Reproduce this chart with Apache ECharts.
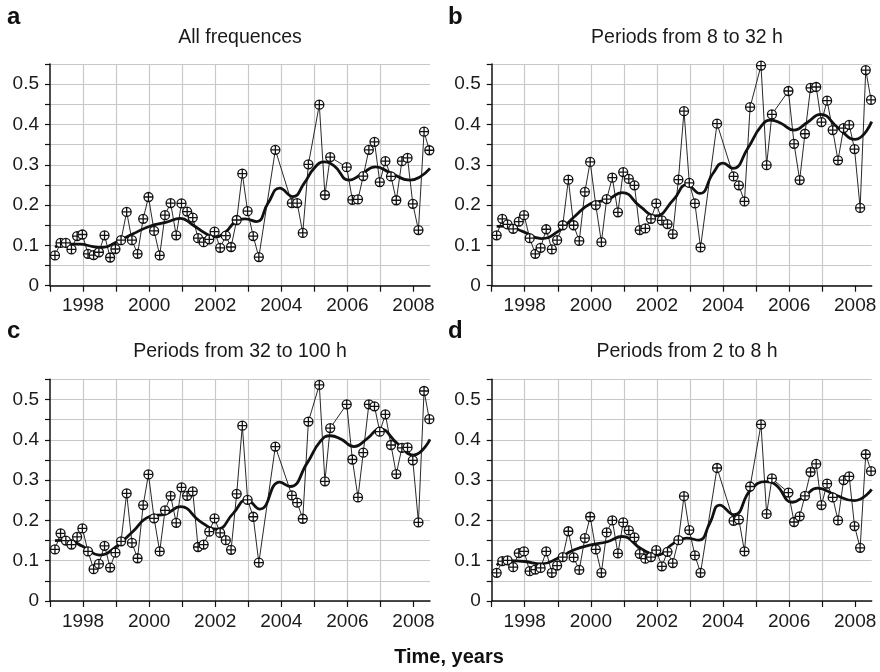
<!DOCTYPE html>
<html>
<head>
<meta charset="utf-8">
<script src="https://cdn.jsdelivr.net/npm/echarts@6/dist/echarts.min.js"></script>
<style>
html,body{margin:0;padding:0;background:#fff;}
#chart{width:880px;height:672px;}
</style>
</head>
<body>
<div id="chart"></div>
<script>
// Observation times (years)
const times = [1997.15,1997.32,1997.48,1997.65,1997.82,1997.98,1998.15,1998.32,1998.48,1998.65,1998.82,1998.98,
  1999.15,1999.32,1999.48,1999.65,1999.82,1999.98,2000.15,2000.32,2000.48,2000.65,2000.82,2000.98,
  2001.15,2001.32,2001.48,2001.65,2001.82,2001.98,2002.15,2002.32,2002.48,2002.65,2002.82,2002.98,
  2003.15,2003.32,2003.82,2004.32,2004.48,2004.65,2004.82,2005.15,2005.32,2005.48,2005.98,
  2006.15,2006.32,2006.48,2006.65,2006.82,2006.98,2007.15,2007.32,2007.48,2007.65,2007.82,2007.98,
  2008.15,2008.32,2008.48];

// Panel a: All frequences
const valuesA = [0.075,0.106,0.106,0.090,0.123,0.127,0.079,0.076,0.083,0.125,0.070,0.091,
  0.113,0.183,0.113,0.079,0.166,0.220,0.136,0.075,0.175,0.205,0.125,0.204,
  0.184,0.169,0.118,0.108,0.115,0.134,0.094,0.124,0.096,0.163,0.278,0.185,
  0.123,0.071,0.337,0.205,0.205,0.131,0.301,0.449,0.225,0.319,0.294,
  0.213,0.214,0.272,0.337,0.357,0.257,0.309,0.271,0.212,0.309,0.317,0.203,
  0.138,0.382,0.336];
// Panel b: Periods from 8 to 32 h
const valuesB = [0.125,0.166,0.152,0.141,0.159,0.175,0.118,0.079,0.094,0.140,0.090,0.113,
  0.150,0.263,0.150,0.111,0.233,0.307,0.200,0.108,0.215,0.268,0.182,0.282,
  0.265,0.249,0.138,0.142,0.166,0.204,0.162,0.153,0.128,0.263,0.433,0.255,
  0.204,0.095,0.402,0.271,0.249,0.209,0.443,0.546,0.299,0.425,0.483,
  0.352,0.262,0.377,0.491,0.493,0.406,0.459,0.386,0.311,0.391,0.399,0.339,
  0.193,0.535,0.461];
// Panel c: Periods from 32 to 100 h
const valuesC = [0.128,0.168,0.150,0.140,0.159,0.180,0.123,0.079,0.092,0.137,0.083,0.120,
  0.148,0.267,0.144,0.106,0.238,0.314,0.205,0.123,0.225,0.261,0.194,0.282,
  0.261,0.272,0.134,0.140,0.172,0.205,0.169,0.151,0.127,0.266,0.435,0.251,
  0.209,0.095,0.383,0.262,0.244,0.204,0.445,0.536,0.297,0.429,0.488,
  0.351,0.257,0.368,0.488,0.483,0.420,0.463,0.387,0.315,0.380,0.381,0.349,
  0.195,0.521,0.451];
// Panel d: Periods from 2 to 8 h
const valuesD = [0.070,0.099,0.101,0.084,0.119,0.123,0.074,0.078,0.082,0.123,0.070,0.088,
  0.109,0.173,0.108,0.077,0.156,0.209,0.128,0.070,0.170,0.200,0.118,0.195,
  0.175,0.158,0.117,0.105,0.109,0.126,0.086,0.122,0.094,0.151,0.260,0.176,
  0.113,0.070,0.330,0.199,0.202,0.123,0.284,0.438,0.216,0.304,0.269,
  0.196,0.210,0.261,0.320,0.340,0.238,0.291,0.257,0.200,0.300,0.309,0.186,
  0.132,0.364,0.322];

// Smoothed trend curves [year, value]
const fitA = [[1997.15,0.096],[1997.5,0.103],[1997.9,0.103],[1998.3,0.097],[1998.6,0.095],[1999.0,0.108],
  [1999.5,0.128],[2000.0,0.147],[2000.5,0.157],[2000.95,0.167],[2001.3,0.152],[2001.7,0.130],[2002.0,0.121],
  [2002.3,0.132],[2002.6,0.158],[2002.9,0.166],[2003.25,0.159],[2003.6,0.205],[2003.95,0.242],[2004.35,0.221],
  [2004.7,0.255],[2005.0,0.292],[2005.3,0.307],[2005.6,0.297],[2006.05,0.262],[2006.4,0.275],[2006.85,0.295],
  [2007.3,0.280],[2007.9,0.262],[2008.2,0.270],[2008.5,0.291]];
const fitB = [[1997.15,0.147],[1997.45,0.148],[1997.95,0.134],[1998.5,0.117],[1999.0,0.134],[1999.5,0.171],
  [2000.0,0.204],[2000.5,0.213],[2000.95,0.231],[2001.5,0.196],[2001.95,0.173],[2002.5,0.213],[2002.9,0.250],
  [2003.3,0.229],[2003.7,0.279],[2004.0,0.304],[2004.3,0.291],[2004.75,0.341],[2005.15,0.395],[2005.45,0.411],
  [2005.75,0.403],[2006.15,0.386],[2006.55,0.405],[2006.95,0.425],[2007.5,0.390],[2008.0,0.363],[2008.5,0.407]];
const fitC = [[1997.15,0.150],[1997.5,0.151],[1998.0,0.135],[1998.5,0.114],[1999.0,0.135],[1999.5,0.172],
  [2000.0,0.209],[2000.5,0.216],[2000.95,0.234],[2001.55,0.197],[2002.05,0.178],[2002.55,0.218],[2002.95,0.251],
  [2003.35,0.228],[2003.95,0.295],[2004.27,0.284],[2004.78,0.342],[2005.18,0.396],[2005.48,0.410],[2005.8,0.402],
  [2006.2,0.383],[2006.6,0.403],[2006.98,0.427],[2007.5,0.392],[2008.0,0.362],[2008.5,0.401]];
const fitD = [[1997.15,0.089],[1997.5,0.100],[1998.0,0.098],[1998.5,0.092],[1999.0,0.106],[1999.5,0.127],
  [2000.0,0.139],[2000.5,0.147],[2000.95,0.160],[2001.5,0.131],[2002.0,0.114],[2002.5,0.143],[2002.9,0.156],
  [2003.27,0.151],[2003.6,0.193],[2003.9,0.238],[2004.33,0.214],[2004.84,0.276],[2005.3,0.296],[2005.6,0.288],
  [2006.1,0.245],[2006.45,0.259],[2006.86,0.280],[2007.4,0.263],[2007.97,0.249],[2008.5,0.277]];

const panelTitles = ['All frequences','Periods from 8 to 32 h','Periods from 32 to 100 h','Periods from 2 to 8 h'];
const panelLetters = ['a','b','c','d'];
const xTickYears = [1997,1998,1999,2000,2001,2002,2003,2004,2005,2006,2007,2008];
const xLabelYears = [1998,2000,2002,2004,2006,2008];
const xRange = {min:1997, max:2008.5};
const yTicks = {min:0, max:0.55, step:0.05};
const axisTitle = 'Time, years';

const FONT = '"Liberation Sans", Arial, Helvetica, sans-serif';
const grids = [
  {left:50, top:64, width:380, height:221.7},
  {left:491.7, top:64, width:380, height:221.7},
  {left:50, top:379.3, width:380, height:221.7},
  {left:491.7, top:379.3, width:380, height:221.7}
];
const allValues = [valuesA, valuesB, valuesC, valuesD];
const allFits = [fitA, fitB, fitC, fitD];
const marker = 'path://M10,0 A10,10 0 1,1 10,20 A10,10 0 1,1 10,0 Z M0,10 L20,10 M10,0 L10,20';

const xAxes = [], yAxes = [], series = [];
grids.forEach((g, i) => {
  xAxes.push({
    type:'value', gridIndex:i, min:xRange.min, max:xRange.max, interval:1,
    axisLine:{show:true, onZero:false, lineStyle:{color:'#111', width:1.5}},
    axisTick:{show:true, length:6, customValues:xTickYears, lineStyle:{color:'#111', width:1.2}},
    axisLabel:{show:true, margin:11, color:'#1a1a1a', fontSize:19, fontFamily:FONT, customValues:xLabelYears,
      formatter:v => (Math.abs(v % 2) < 1e-6 && v >= 1998) ? String(v) : ''},
    splitLine:{show:true, showMinLine:false, showMaxLine:false, lineStyle:{color:'#c8c8c8', width:1.2}}
  });
  yAxes.push({
    type:'value', gridIndex:i, min:yTicks.min, max:yTicks.max, interval:yTicks.step,
    axisLine:{show:true, lineStyle:{color:'#111', width:1.5}},
    axisTick:{show:true, length:5, lineStyle:{color:'#111', width:1.2}},
    axisLabel:{show:true, margin:11, color:'#1a1a1a', fontSize:19, fontFamily:FONT,
      formatter:v => { const r = Math.round(v*100); if (r % 10 !== 0 || r > 50) return ''; return r === 0 ? '0' : (r/100).toFixed(1); }},
    splitLine:{show:true, lineStyle:{color:'#c8c8c8', width:1.2}}
  });
  series.push({
    type:'line', xAxisIndex:i, yAxisIndex:i, smooth:true, showSymbol:false, z:3,
    data: allFits[i], lineStyle:{color:'#111', width:2.8}, silent:true
  });
  series.push({
    type:'line', xAxisIndex:i, yAxisIndex:i, z:4,
    data: times.map((t, k) => [t, allValues[i][k]]),
    symbol: marker, symbolSize:9, showSymbol:true,
    lineStyle:{color:'#111', width:0.9},
    itemStyle:{color:'#ffffff', borderColor:'#111', borderWidth:1.3},
    silent:true
  });
});

const graphics = [];
const titlePos = [[240,38],[687,38],[240,352],[687,352]];
const letterPos = [[7,17],[448,17],[7,331],[448,331]];
panelTitles.forEach((t, i) => {
  graphics.push({type:'text', style:{text:t, x:titlePos[i][0], y:titlePos[i][1], fill:'#1a1a1a',
    font:'19.5px ' + FONT, textAlign:'center', textVerticalAlign:'middle', verticalAlign:'middle'}});
  graphics.push({type:'text', style:{text:panelLetters[i], x:letterPos[i][0], y:letterPos[i][1], fill:'#111',
    font:'bold 24px ' + FONT, textAlign:'left', textVerticalAlign:'middle', verticalAlign:'middle'}});
});
graphics.push({type:'text', style:{text:axisTitle, x:449, y:657, fill:'#111',
  font:'bold 20px ' + FONT, textAlign:'center', textVerticalAlign:'middle', verticalAlign:'middle'}});

const chart = echarts.init(document.getElementById('chart'), null, {renderer:'canvas'});
chart.setOption({
  animation:false,
  backgroundColor:'#ffffff',
  textStyle:{fontFamily:FONT},
  grid: grids.map(g => Object.assign({containLabel:false}, g)),
  xAxis: xAxes,
  yAxis: yAxes,
  series: series,
  graphic: graphics
});
</script>
</body>
</html>
